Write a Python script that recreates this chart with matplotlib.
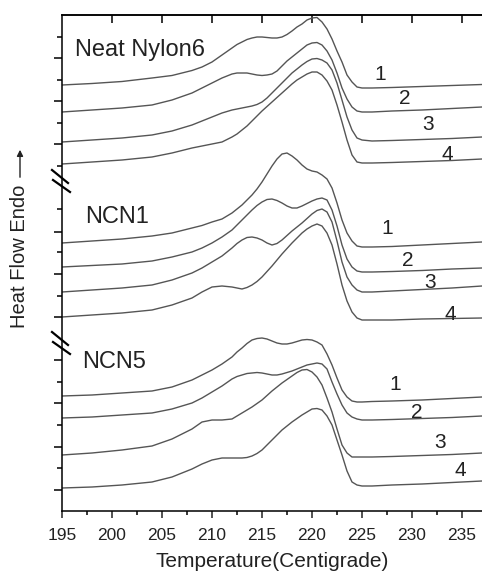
import numpy as np
import matplotlib
matplotlib.use("Agg")
import matplotlib.pyplot as plt

plt.rcParams["font.family"] = ["Liberation Sans", "DejaVu Sans"]

# ---------------------------
# Data (heat flow, arbitrary units, already offset per trace)
# ---------------------------
temp = [195, 198, 201, 204, 206, 208, 209, 210, 211,
        212, 212.5, 213, 213.5, 214, 214.5, 215, 215.5, 216, 216.5, 217, 217.5,
        218, 218.5, 219, 219.5, 220, 220.5, 221,
        221.5, 222, 222.5, 223, 223.5, 224, 224.5, 225,
        226, 228, 231, 234, 237]

nylon6_1 = [426, 427.5, 429.5, 433, 435.5, 440.5, 444, 449, 456,
            463, 466.5, 469, 471.5, 473, 474, 474, 473.5, 473, 473, 474, 476.5,
            480, 484, 487, 491, 493, 493.5, 489,
            482, 472, 460, 449, 436, 429, 424, 423,
            423, 423.5, 424.5, 425.5, 426.5]
nylon6_2 = [399, 401, 403, 406, 411, 418, 423, 428, 433,
            437, 438, 438, 438, 437, 436, 435.5, 436, 437, 440, 445, 450,
            454, 458, 462, 466, 468, 468.5, 466,
            460, 451, 438, 423, 412, 404, 400, 399,
            399, 400, 401, 402.5, 404]
nylon6_3 = [369, 371, 373, 376, 380, 386, 390, 394, 398,
            401, 402, 403, 404, 405, 406.5, 409, 413, 418, 423, 428, 433,
            438, 442, 446, 449.5, 452, 452.5, 451,
            448, 441, 428, 411, 394, 381, 373, 371,
            370, 370.5, 371.5, 372.5, 374]
nylon6_4 = [347, 349, 351, 354, 358, 363, 365, 367, 369,
            374, 377, 381, 385, 390, 395, 400, 404.5, 409, 413.5, 418, 422.5,
            427, 431, 434, 437, 439, 439, 436,
            430, 421, 406, 389, 371, 356, 349, 348,
            348, 348.5, 349.5, 350.5, 352]

ncn1_1 = [268, 270, 272, 275, 278, 283, 285.5, 289, 292,
          298, 302, 306, 311, 316, 322, 329, 337, 345, 352, 357, 358,
          355, 351, 346, 342, 340, 339, 336,
          332, 323, 308, 291, 278, 270, 265, 264,
          264, 264.5, 266, 267.5, 269]
ncn1_2 = [244, 245.5, 247, 250, 254, 259, 263, 268, 274,
          281, 286, 291, 296, 301, 305.5, 309, 311.5, 312, 310.5, 308, 305,
          303, 303, 305, 307.5, 310, 312, 313,
          311, 301, 285, 266, 252, 244, 240, 239,
          239, 239.5, 240.5, 242, 243]
ncn1_3 = [219, 221, 223, 226, 231, 238, 243, 249, 255,
          263, 267.5, 271, 273.5, 274, 273, 271, 268, 266, 267.5, 271, 275.5,
          280, 284, 288, 292.5, 297, 300.5, 302,
          299, 289, 270, 249, 234, 226, 221, 219,
          219, 220, 221.5, 223, 225]
ncn1_4 = [194, 196, 198, 201, 206, 213, 219, 224, 225,
          224, 223, 222, 223.5, 226, 229.5, 234, 239.5, 245, 251, 257, 262.5,
          268, 273, 278, 282, 285, 287, 285,
          278, 266, 247, 226, 210, 199, 193, 191,
          191, 191, 192, 192.5, 193]

ncn5_1 = [115, 116, 118, 120, 124, 131, 136, 141, 147,
          154, 159, 163, 167.5, 171, 172.5, 173, 172, 170, 168, 167, 167,
          168, 169.5, 171, 171.5, 171, 169, 166,
          157, 146, 133, 121, 114, 110, 109, 109,
          109.5, 110, 111, 112.5, 114]
ncn5_2 = [93, 94, 96, 98, 102, 108, 113, 119, 125,
          132, 134.5, 136, 137.5, 138, 138.5, 138, 137, 136, 136, 137, 138.5,
          140, 142, 144, 146, 147, 148, 147,
          142, 129, 117, 106, 98, 94, 92, 91,
          91, 91.5, 92.5, 93.5, 95]
ncn5_3 = [56, 58, 61, 65, 72, 82, 89, 91, 91,
          92, 95, 98, 101, 104, 107.5, 111, 115.5, 120, 124, 128, 131.5,
          135, 138.5, 141, 141.5, 139, 134, 126,
          113, 99, 82, 66, 58, 54, 54, 54,
          54, 54.5, 55.5, 56.5, 58]
ncn5_4 = [23, 24, 26, 29, 34, 42, 47, 51, 53,
          53, 53, 53, 53.5, 55, 57.5, 61, 66, 71, 76, 81, 85,
          89, 92.5, 96, 99, 102, 102.5, 101,
          95, 86, 71, 56, 40, 29, 26, 25,
          25, 26, 27, 28.5, 30]

curves = [nylon6_1, nylon6_2, nylon6_3, nylon6_4,
          ncn1_1, ncn1_2, ncn1_3, ncn1_4,
          ncn5_1, ncn5_2, ncn5_3, ncn5_4]

trace_labels = ["1", "2", "3", "4"] * 3
label_x = [226.8, 229.3, 231.6, 233.5,
           227.5, 229.6, 231.8, 233.8,
           228.3, 230.5, 232.8, 234.8]
label_y = [436, 413, 386, 357,
           283, 251, 228, 196,
           126, 99, 68, 41]

groups = ["Neat Nylon6", "NCN1", "NCN5"]
group_x = [196.3, 197.3, 197.0]
group_y = [461, 294, 149]

breaks = [330, 168]

# ---------------------------
# Plot
# ---------------------------
fig = plt.figure(figsize=(4.82, 5.76), dpi=100)
ax = fig.add_axes([62 / 482, 65 / 576, 420 / 482, 496 / 576])

for c in curves:
    ax.plot(temp, c, color="#555555", lw=1.0)

for t, x, y in zip(trace_labels, label_x, label_y):
    ax.text(x, y, t, fontsize=15, ha="center", va="center", color="#222222")

for g, x, y in zip(groups, group_x, group_y):
    ax.text(x, y, g, fontsize=17, ha="left", va="center", color="#222222")

ax.set_xlim(195, 237)
ax.set_ylim(0, 496)
ax.set_xticks(np.arange(195, 236, 5))
ax.set_xticks(np.arange(197.5, 237, 5), minor=True)
ax.set_yticks([21, 64, 108, 151, 194, 237, 279, 367, 410, 453])
ax.set_yticks([43, 86, 129, 215, 259, 302, 345, 388, 431, 474], minor=True)
ax.set_yticklabels([])
ax.tick_params(axis="x", which="major", direction="out", length=5, width=1.1,
               labelsize=12.5, pad=7, colors="#222222")
ax.tick_params(axis="x", which="minor", direction="out", length=3, width=1.1)
ax.tick_params(axis="y", which="major", direction="out", length=6, width=1.1)
ax.tick_params(axis="y", which="minor", direction="out", length=3.5, width=1.1)
ax.spines["right"].set_visible(False)
for s in ["left", "bottom", "top"]:
    ax.spines[s].set_linewidth(1.1)

top = ax.secondary_xaxis("top")
top.set_xticks(np.arange(200, 236, 5))
top.tick_params(direction="in", length=6, width=1.1, labeltop=False)
top.spines["top"].set_linewidth(1.1)

ax.set_xlabel("Temperature(Centigrade)", fontsize=15, labelpad=7, color="#222222")

# axis break marks
ytr = ax.get_yaxis_transform()
px = 1 / 420
for b in breaks:
    ax.plot([-10 * px, 6 * px], [b + 11, b - 2], color="black", lw=1.6,
            transform=ytr, clip_on=False)
    ax.plot([-9 * px, 8 * px], [b + 1, b - 11], color="black", lw=1.6,
            transform=ytr, clip_on=False)

# y label with arrow
fig.text(20 / 482, (576 - 328) / 576, "Heat Flow Endo", rotation=90,
         fontsize=14.5, ha="center", va="bottom", color="#222222")
fig.add_artist(matplotlib.patches.FancyArrowPatch(
    (20 / 482, (576 - 180) / 576), (20 / 482, (576 - 147) / 576),
    transform=fig.transFigure, arrowstyle="-|>", mutation_scale=9,
    color="#222222", lw=1.0))

fig.savefig("out.png", dpi=100)
